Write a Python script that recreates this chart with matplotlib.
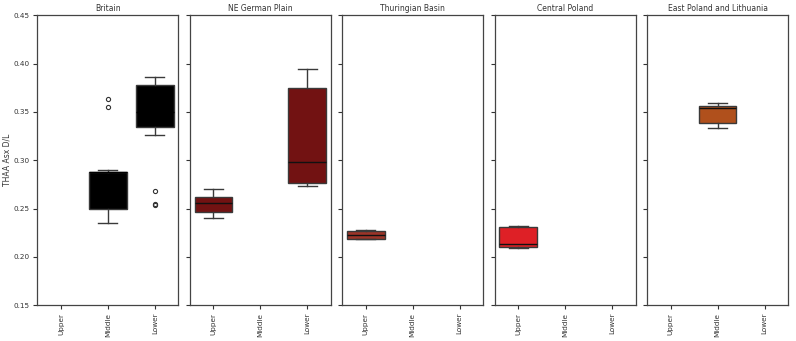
import numpy as np
import matplotlib.pyplot as plt

# regions (one panel each) and the stratigraphic categories on the x axis
regions = ['Britain', 'NE German Plain', 'Thuringian Basin', 'Central Poland',
           'East Poland and Lithuania']
levels = ['Upper', 'Middle', 'Lower']
colors = ['#000000', '#721212', '#9c3428', '#de2026', '#b0501c']

# box statistics, per region, per level (None = no data)
whislo = [[None, 0.2355, 0.3262], [0.2399, None, 0.2737], [0.2190, None, None],
          [0.2097, None, None], [None, 0.3330, None]]
q1 = [[None, 0.2500, 0.3345], [0.2462, None, 0.2764], [0.2190, None, None],
      [0.2103, None, None], [None, 0.3386, None]]
med = [[None, 0.2880, 0.3500], [0.2558, None, 0.2977], [0.2228, None, None],
       [0.2138, None, None], [None, 0.3541, None]]
q3 = [[None, 0.2882, 0.3780], [0.2620, None, 0.3745], [0.2265, None, None],
      [0.2311, None, None], [None, 0.3565, None]]
whishi = [[None, 0.2897, 0.3862], [0.2704, None, 0.3945], [0.2275, None, None],
          [0.2321, None, None], [None, 0.3593, None]]
fliers = [[[], [0.3638, 0.3552], [0.2686, 0.2545, 0.2540]], [[], [], []],
          [[], [], []], [[], [], []], [[], [], []]]

plt.rcParams['font.size'] = 5.2
plt.rcParams['text.color'] = '#333333'
plt.rcParams['axes.labelcolor'] = '#333333'
plt.rcParams['xtick.color'] = '#333333'
plt.rcParams['ytick.color'] = '#333333'

fig, axes = plt.subplots(1, 5, figsize=(7.96, 3.41), dpi=100, sharey=True)
fig.subplots_adjust(left=0.047, right=0.990, bottom=0.105, top=0.955, wspace=0.082)

for i, ax in enumerate(axes):
    stats = []
    pos = []
    for j in range(len(levels)):
        if q1[i][j] is None:
            continue
        stats.append(dict(whislo=whislo[i][j], q1=q1[i][j], med=med[i][j],
                          q3=q3[i][j], whishi=whishi[i][j], fliers=fliers[i][j]))
        pos.append(j)
    # black boxes hide their median, as in the original
    mcol = colors[i] if colors[i] == '#000000' else '#111111'
    ax.bxp(stats, positions=pos, widths=0.8, patch_artist=True,
           boxprops=dict(facecolor=colors[i], edgecolor='#3a3a3a', linewidth=1.0),
           medianprops=dict(color=mcol, linewidth=1.0),
           whiskerprops=dict(color='#3a3a3a', linewidth=1.0),
           capprops=dict(color='#3a3a3a', linewidth=1.0),
           flierprops=dict(marker='o', markersize=3, markerfacecolor='none',
                           markeredgecolor='#333333', markeredgewidth=0.8))
    ax.set_xlim(-0.5, 2.5)
    ax.set_xticks(range(len(levels)))
    ax.set_xticklabels(levels, rotation=90, fontsize=5.2)
    ax.set_title(regions[i], fontsize=5.5, pad=3)
    for s in ax.spines.values():
        s.set_color('#444444')
        s.set_linewidth(0.9)
    ax.tick_params(direction='out', length=3, width=0.8, pad=2.5, labelsize=5.2)

axes[0].set_ylim(0.15, 0.45)
axes[0].set_yticks(np.arange(0.15, 0.451, 0.05))
axes[0].set_ylabel('THAA Asx D/L', fontsize=5.5, labelpad=1.5)

fig.savefig('out.png', dpi=100)
